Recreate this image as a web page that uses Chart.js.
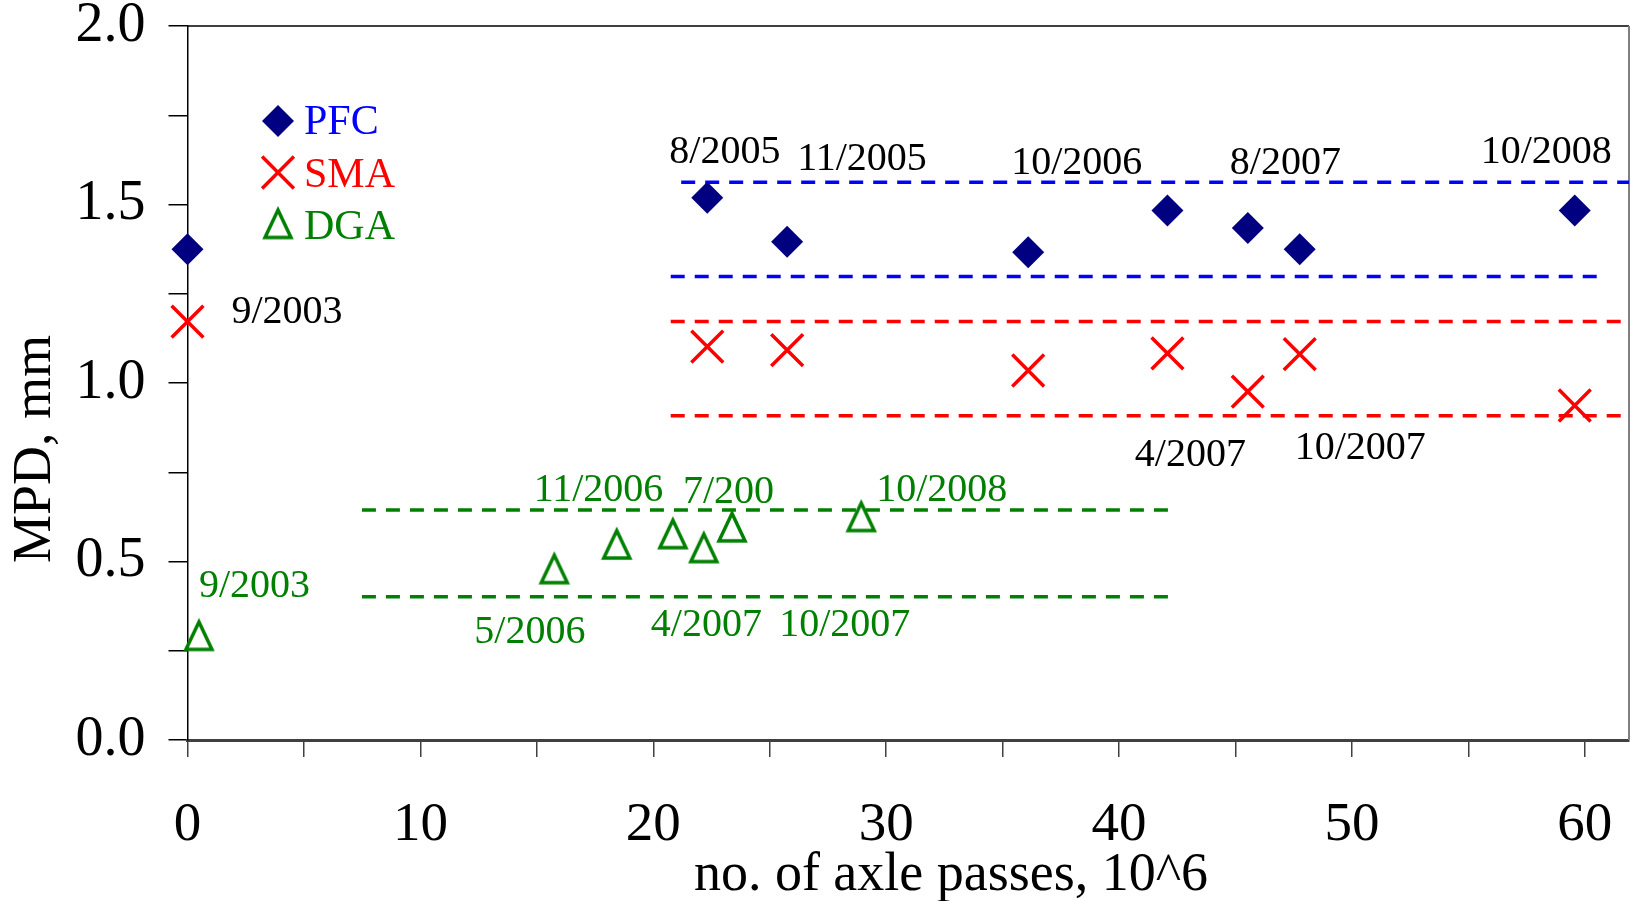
<!DOCTYPE html>
<html lang="en">
<head>
<meta charset="UTF-8">
<title>MPD vs no. of axle passes</title>
<script src="https://cdn.jsdelivr.net/npm/chart.js@4.4.1/dist/chart.umd.min.js"></script>
<style>
  body { margin: 0; background: #fff; }
  #contenedor { width: 1631px; height: 901px; position: relative; }
</style>
</head>
<body>
<div id="contenedor"><canvas id="grafico"></canvas></div>
<script>
//datos (pasadas en 10^6, MPD en mm)
const pasadas = [0, 22.32, 25.75, 36.10, 42.08, 45.53, 47.76, 59.57];
const mpdPFC = [1.375, 1.519, 1.396, 1.366, 1.483, 1.434, 1.375, 1.483];
const mpdSMA = [1.172, 1.102, 1.092, 1.035, 1.083, 0.976, 1.081, 0.937];
const pasadasDGA = [0.49, 15.75, 18.43, 20.84, 22.17, 23.38, 28.93];
const mpdDGA = [0.293, 0.480, 0.549, 0.578, 0.539, 0.597, 0.626];

//lineas discontinuas (rango x y nivel)
const limitePFCsupX = [21.2, 61.9];
const limitePFCinfX = [20.75, 60.65];
const limiteSMAX = [20.75, 61.9];
const limiteDGAX = [7.49, 42.23];
const nivelesPFC = [1.562, 1.298];
const nivelesSMA = [1.172, 0.908];
const nivelesDGA = [0.644, 0.401];

//etiquetas
const nombresSeries = ['PFC', 'SMA', 'DGA'];
const fechasPFC = ['8/2005', '11/2005', '10/2006', '8/2007', '10/2008'];
const fechasSMA = ['9/2003', '4/2007', '10/2007'];
const fechasDGA = ['9/2003', '11/2006', '7/200', '10/2008', '5/2006', '4/2007', '10/2007'];
const marcasX = [0, 10, 20, 30, 40, 50, 60];
const marcasY = [0, 0.5, 1, 1.5, 2];
const tituloX = 'no. of axle passes, 10^6';
const tituloY = 'MPD, mm';

Chart.defaults.font.family = "'Liberation Serif', 'Times New Roman', serif";
Chart.defaults.color = '#000';

const puntos = (xs, ys) => xs.map((x, i) => ({ x, y: ys[i] }));
const tramo = (xs, y) => [{ x: xs[0], y }, { x: xs[1], y }];

//triangulo hueco (mas alto que el equilatero de chart.js)
function crearTriangulo(color) {
    const c = document.createElement('canvas');
    c.width = 36;
    c.height = 36;
    const g = c.getContext('2d');
    g.strokeStyle = color;
    g.lineWidth = 3.5;
    g.beginPath();
    g.moveTo(18, 4.5);
    g.lineTo(31, 32);
    g.lineTo(5, 32);
    g.closePath();
    g.stroke();
    return c;
}
const trianguloVerde = crearTriangulo('#008000');

function linea(data, color) {
    return {
        data, showLine: true, borderColor: color, borderWidth: 3.5,
        borderDash: [14, 10], pointRadius: 0, pointHoverRadius: 0, order: 2
    };
}

// posicion de cada etiqueta: [dataset, punto, dx, dy] -> texto izq / linea base
const posPFC = [[0, 1, -38, -35], [0, 2, 10, -72], [0, 3, -17, -78], [0, 5, -18, -54], [0, 7, -94, -48]];
const posSMA = [[1, 0, 44, 1], [1, 5, -113, 74], [1, 6, -5, 105]];
const posDGA = [[2, 0, 0, -38], [2, 2, -83, -43], [2, 5, -49, -24], [2, 6, 15, -16], [2, 1, -80, 74], [2, 3, -22, 102], [2, 6, -82, 119]];

const extras = {
    id: 'extras',
    beforeDatasetsDraw(chart) {
        const { ctx, chartArea: a } = chart;
        ctx.save();
        ctx.strokeStyle = '#000';
        ctx.lineWidth = 1.5;
        ctx.beginPath();
        ctx.moveTo(a.left, a.top);
        ctx.lineTo(a.right, a.top);
        ctx.stroke();
        ctx.strokeStyle = '#808080';
        ctx.lineWidth = 2;
        ctx.beginPath();
        ctx.moveTo(a.right, a.top);
        ctx.lineTo(a.right, a.bottom);
        ctx.stroke();
        ctx.restore();
    },
    afterDatasetsDraw(chart) {
        const { ctx } = chart;
        ctx.save();
        ctx.font = "40px 'Liberation Serif'";
        ctx.textBaseline = 'alphabetic';
        ctx.textAlign = 'left';

        const escribir = (textos, pos, color, fondo) => {
            textos.forEach((t, i) => {
                const [ds, idx, dx, dy] = pos[i];
                const p = chart.getDatasetMeta(ds).data[idx];
                const x = p.x + dx, y = p.y + dy;
                if (fondo && fondo(i)) {
                    const w = ctx.measureText(t).width;
                    ctx.fillStyle = '#fff';
                    ctx.fillRect(x - 14, y - 34, w + 30, 40);
                }
                ctx.fillStyle = color;
                ctx.fillText(t, x, y);
            });
        };
        escribir(fechasPFC, posPFC, '#000', i => i === fechasPFC.length - 1);
        escribir(fechasSMA, posSMA, '#000');
        escribir(fechasDGA, posDGA, '#008000');

        //leyenda
        const coloresTexto = ['#0000FF', '#FF0000', '#008000'];
        const marcaY = [121, 172.5, 223.5];
        const baseY = [134, 187, 239];
        ctx.font = "42px 'Liberation Serif'";
        nombresSeries.forEach((n, i) => {
            const el = chart.getDatasetMeta(i).data[0];
            const o = el.options;
            ctx.fillStyle = o.backgroundColor;
            ctx.strokeStyle = o.borderColor;
            ctx.lineWidth = o.borderWidth;
            Chart.helpers.drawPoint(ctx, {
                pointStyle: o.pointStyle, radius: o.radius, rotation: 0, borderWidth: o.borderWidth
            }, 278, marcaY[i]);
            ctx.fillStyle = coloresTexto[i];
            ctx.fillText(n, 304, baseY[i]);
        });

        //titulos de ejes
        ctx.fillStyle = '#000';
        ctx.font = "54px 'Liberation Serif'";
        ctx.textAlign = 'center';
        ctx.fillText(tituloX, 951, 890);
        ctx.translate(50, 449);
        ctx.rotate(-Math.PI / 2);
        ctx.fillText(tituloY, 0, 0);
        ctx.restore();
    }
};

const ctx = document.getElementById('grafico').getContext('2d');
const grafico = new Chart(ctx, {
    type: 'scatter',
    data: {
        datasets: [
            {
                label: nombresSeries[0], data: puntos(pasadas, mpdPFC),
                pointStyle: 'rectRot', pointRadius: 16, pointHoverRadius: 16,
                pointBackgroundColor: '#000080', pointBorderColor: '#000080', pointBorderWidth: 0,
                clip: false, order: 0
            },
            {
                label: nombresSeries[1], data: puntos(pasadas, mpdSMA),
                pointStyle: 'crossRot', pointRadius: 22.5, pointHoverRadius: 22.5,
                pointBackgroundColor: '#FF0000', pointBorderColor: '#FF0000', pointBorderWidth: 3.5,
                clip: false, order: 0
            },
            {
                label: nombresSeries[2], data: puntos(pasadasDGA, mpdDGA),
                pointStyle: trianguloVerde, pointRadius: 17, pointHoverRadius: 17,
                pointBackgroundColor: 'rgba(0,0,0,0)', pointBorderColor: '#008000', pointBorderWidth: 0,
                clip: false, order: 0
            },
            linea(tramo(limitePFCsupX, nivelesPFC[0]), '#0000FF'),
            linea(tramo(limitePFCinfX, nivelesPFC[1]), '#0000FF'),
            linea(tramo(limiteSMAX, nivelesSMA[0]), '#FF0000'),
            linea(tramo(limiteSMAX, nivelesSMA[1]), '#FF0000'),
            linea(tramo(limiteDGAX, nivelesDGA[0]), '#008000'),
            linea(tramo(limiteDGAX, nivelesDGA[1]), '#008000')
        ]
    },
    options: {
        responsive: true,
        maintainAspectRatio: false,
        animation: false,
        events: [],
        layout: { autoPadding: false, padding: { top: 26, right: 2, left: 0, bottom: 0 } },
        plugins: { legend: { display: false }, tooltip: { enabled: false } },
        scales: {
            x: {
                type: 'linear', min: 0, max: 61.9,
                afterFit: s => { s.height = 161; s.paddingLeft = 0; s.paddingRight = 0; },
                border: { display: true, color: '#404040', width: 3 },
                grid: { drawOnChartArea: false, drawTicks: true, tickLength: 17, color: '#404040', lineWidth: 1.5 },
                ticks: {
                    stepSize: 5, includeBounds: false, autoSkip: false, maxRotation: 0, padding: 36,
                    color: '#000', font: { size: 55 },
                    callback: v => marcasX.includes(v) ? String(v) : ''
                }
            },
            y: {
                min: 0, max: 2,
                afterFit: s => { s.width = 187.5; s.paddingTop = 0; s.paddingBottom = 0; },
                border: { display: true, color: '#000', width: 1.5 },
                grid: { drawOnChartArea: false, drawTicks: true, tickLength: 19, color: '#000', lineWidth: 1.5 },
                ticks: {
                    stepSize: 0.25, padding: 23, color: '#000', font: { size: 56 },
                    callback: v => marcasY.includes(v) ? v.toFixed(1) : ''
                }
            }
        }
    },
    plugins: [extras]
});
</script>
</body>
</html>
